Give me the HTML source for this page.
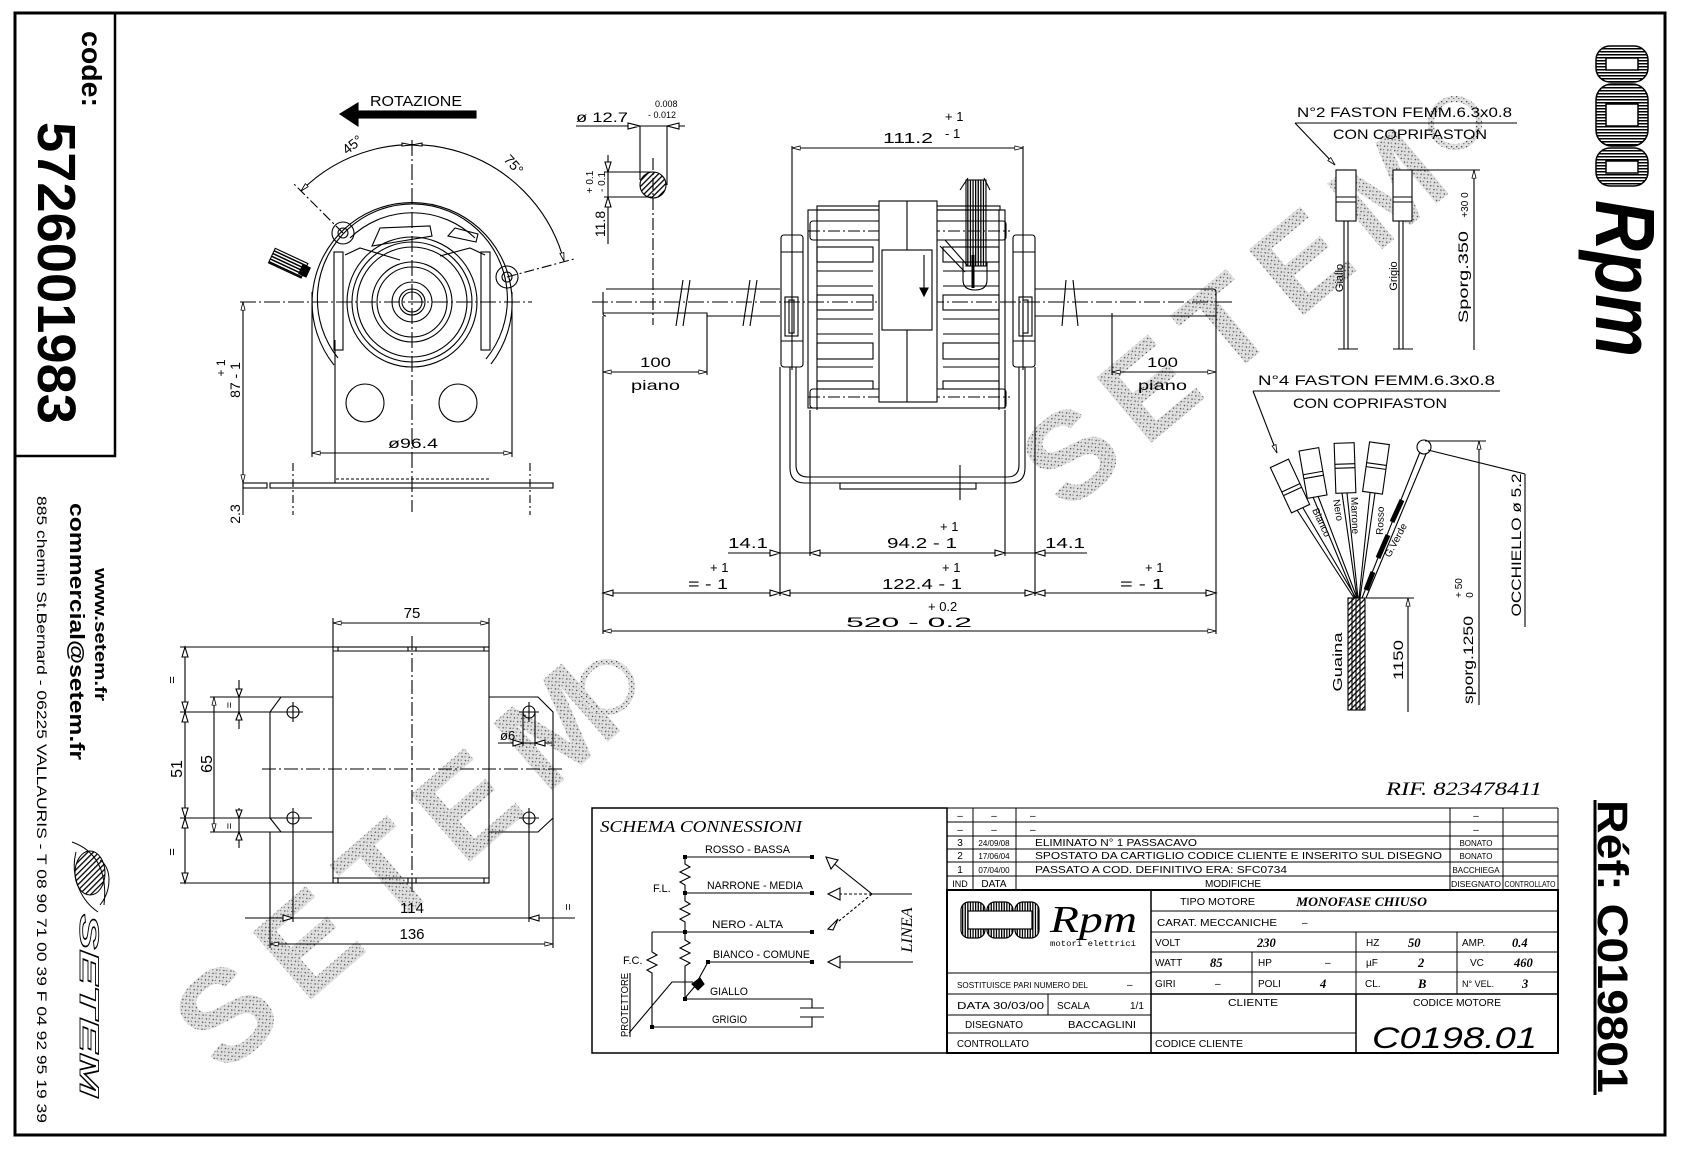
<!DOCTYPE html>
<html><head><meta charset="utf-8">
<style>
html,body{margin:0;padding:0;background:#fff}
svg{display:block}
text{font-family:"Liberation Sans",sans-serif;fill:#000;stroke:none}
.s{font-family:"Liberation Serif",serif;font-style:italic}
</style></head>
<body>
<svg width="1683" height="1153" viewBox="0 0 1683 1153" xmlns="http://www.w3.org/2000/svg">
<defs>
<marker id="ar" viewBox="0 0 10 6" refX="10" refY="3" markerWidth="9" markerHeight="5" markerUnits="userSpaceOnUse" orient="auto-start-reverse"><path d="M0,0.5 L10,3 L0,5.5 z" fill="#fff" stroke="#000" stroke-width="1"/></marker>
<pattern id="hatch" width="4" height="4" patternUnits="userSpaceOnUse" patternTransform="rotate(45)"><rect width="1.3" height="4" fill="#000"/></pattern>
<pattern id="hs" width="4" height="3" patternUnits="userSpaceOnUse"><rect width="4" height="1.5" fill="#000"/></pattern>
<pattern id="vs" width="2.6" height="4" patternUnits="userSpaceOnUse"><rect width="1.3" height="4" fill="#000"/></pattern>
<pattern id="stip" width="5" height="5" patternUnits="userSpaceOnUse"><rect width="5" height="5" fill="#e0e0e0"/><rect x="1" y="1" width="1.3" height="1.3" fill="#4a4a4a"/><rect x="3.2" y="3" width="1.2" height="1.2" fill="#777"/></pattern>
</defs>
<rect width="1683" height="1153" fill="#fff"/>

<!-- watermarks -->
<g font-family="Liberation Sans" font-weight="bold">
<text transform="translate(403,859) rotate(-41)" text-anchor="middle" y="46" font-size="130" letter-spacing="22" style="fill:url(#stip)">SETEM</text>
<text transform="translate(1240,311) rotate(-40)" text-anchor="middle" y="44" font-size="124" letter-spacing="20" style="fill:url(#stip)">SETEM</text>
</g>
<circle cx="607" cy="687" r="25" fill="none" stroke="url(#stip)" stroke-width="6"/>
<circle cx="1455" cy="123" r="24" fill="none" stroke="url(#stip)" stroke-width="6"/>

<!-- frame -->
<rect x="15" y="13" width="1650" height="1122" fill="none" stroke="#000" stroke-width="3"/>
<path d="M115,13 V456 H15" fill="none" stroke="#000" stroke-width="2.5"/>

<!-- left panel -->
<text transform="translate(82,31) rotate(90)" font-size="28" font-weight="bold" textLength="76" lengthAdjust="spacingAndGlyphs">code:</text>
<text transform="translate(38,122) rotate(90)" font-size="54" font-weight="bold" textLength="302" lengthAdjust="spacingAndGlyphs">5726001983</text>
<text transform="translate(95,568) rotate(90)" font-size="17" font-weight="bold" textLength="133" lengthAdjust="spacingAndGlyphs">www.setem.fr</text>
<text transform="translate(70,503) rotate(90)" font-size="20" font-weight="bold" textLength="257" lengthAdjust="spacingAndGlyphs">commercial@setem.fr</text>
<text transform="translate(37,496) rotate(90)" font-size="14" textLength="627" lengthAdjust="spacingAndGlyphs">885 chemin St.Bernard - 06225 VALLAURIS - T 08 90 71 00 39  F 04 92 95 19 39</text>
<g fill="none" stroke="#000" stroke-width="1">
<ellipse cx="90" cy="873" rx="15" ry="22" fill="url(#hatch)"/>
<path d="M72,842 C95,850 108,870 104,905 M76,852 C70,875 80,900 98,912 M100,860 C112,868 112,890 100,905"/>
</g>
<text transform="translate(80,914) rotate(90)" font-size="27" font-weight="bold" font-style="italic" style="fill:#fff;stroke:#000;stroke-width:0.9" textLength="183" lengthAdjust="spacingAndGlyphs">SETEM</text>

<!-- top-right Rpm logo -->
<g stroke="#000" stroke-width="1.5">
<rect x="1596" y="46" width="52" height="36" rx="14" fill="url(#hs)"/>
<rect x="1596" y="84" width="52" height="62" rx="16" fill="url(#hs)"/>
<rect x="1596" y="148" width="52" height="38" rx="14" fill="url(#hs)"/>
<rect x="1606" y="58" width="32" height="12" fill="#fff"/>
<rect x="1606" y="104" width="32" height="22" fill="#fff"/>
<rect x="1606" y="161" width="32" height="12" fill="#fff"/>
</g>
<text transform="translate(1596,200) rotate(90)" font-family="Liberation Serif" font-style="italic" font-weight="bold" font-size="84" textLength="157" lengthAdjust="spacingAndGlyphs">Rpm</text>

<!-- Réf -->
<line x1="1595" y1="800" x2="1595" y2="1095" stroke="#000" stroke-width="3"/>
<text transform="translate(1598,800) rotate(90)" font-size="43" font-weight="bold" textLength="293" lengthAdjust="spacingAndGlyphs">Réf: C019801</text>
<text x="1386" y="795" class="s" font-size="19" textLength="156" lengthAdjust="spacingAndGlyphs">RIF. 823478411</text>

<!-- ================= TOP-LEFT VIEW ================= -->
<g fill="none" stroke="#000" stroke-width="1.1">
<rect x="355" y="111" width="121" height="7" fill="#000"/>
<path d="M340,114 L358,103 L358,126 z" fill="#000"/>
<path d="M301,191 A157,157 0 0 1 564,261" marker-start="url(#ar)" marker-end="url(#ar)"/>
<path d="M402,146 L412,145 L402,143 z M422,146 L412,145 L422,143z" fill="#fff"/>
<line x1="412" y1="140" x2="412" y2="512" stroke-dasharray="16 3 2 3"/>
<line x1="240" y1="302" x2="532" y2="302" stroke-dasharray="16 3 2 3"/>
<line x1="343" y1="233" x2="293" y2="183" stroke-dasharray="10 3 2 3"/>
<line x1="507" y1="277" x2="574" y2="259" stroke-dasharray="10 3 2 3"/>
<circle cx="412" cy="302" r="10"/><circle cx="412" cy="302" r="13"/>
<circle cx="412" cy="302" r="20"/><circle cx="412" cy="302" r="35"/>
<circle cx="412" cy="302" r="40"/><circle cx="412" cy="302" r="55"/>
<circle cx="412" cy="302" r="60"/><circle cx="412" cy="302" r="65"/>
<path d="M334,365 A100,100 0 1 1 491,364"/>
<path d="M338,358 A95,95 0 1 1 486,359"/>
<path d="M350,238 A90,90 0 0 1 475,238"/>
<path d="M372,246 L380,228 L430,226 L432,236 L384,244 z"/>
<path d="M448,236 L455,228 L478,234 L476,242 z"/>
<path d="M345,255 L360,248 L400,260 M485,255 L470,248 L440,256"/>
<rect x="334" y="252" width="9" height="98"/>
<rect x="481" y="252" width="9" height="98"/>
<circle cx="343" cy="233" r="11"/><circle cx="343" cy="233" r="5"/>
<circle cx="507" cy="277" r="11"/><circle cx="507" cy="277" r="5"/>
<g transform="translate(290,264) rotate(25)"><rect x="-20" y="-8" width="36" height="16" fill="url(#hs)"/><rect x="12" y="-5" width="8" height="10" fill="#000"/></g>
<line x1="312" y1="292" x2="312" y2="457"/>
<line x1="512" y1="292" x2="512" y2="457"/>
<line x1="335" y1="340" x2="335" y2="483"/>
<line x1="312" y1="453" x2="512" y2="453" marker-start="url(#ar)" marker-end="url(#ar)"/>
<circle cx="365" cy="403" r="19"/><circle cx="458" cy="403" r="19"/>
<rect x="270" y="483" width="283" height="5"/>
<rect x="243" y="483" width="24" height="5"/>
<line x1="336" y1="479" x2="490" y2="479" stroke-dasharray="3 2"/>
<line x1="293" y1="463" x2="293" y2="515" stroke-dasharray="8 3 2 3"/>
<line x1="530" y1="463" x2="530" y2="515" stroke-dasharray="8 3 2 3"/>
<line x1="243" y1="302" x2="243" y2="483" marker-start="url(#ar)" marker-end="url(#ar)"/>
<line x1="243" y1="483" x2="243" y2="515"/>
</g>
<text x="370" y="106" font-size="15" textLength="92" lengthAdjust="spacingAndGlyphs">ROTAZIONE</text>
<text transform="translate(347,155) rotate(-38)" font-size="14">45°</text>
<text transform="translate(503,160) rotate(48)" font-size="14">75°</text>
<text x="388" y="448" font-size="14" textLength="50" lengthAdjust="spacingAndGlyphs">ø96.4</text>
<text transform="translate(240,380) rotate(-90)" text-anchor="middle" font-size="14">87 - 1</text>
<text transform="translate(225,368) rotate(-90)" text-anchor="middle" font-size="12">+ 1</text>
<text transform="translate(240,514) rotate(-90)" text-anchor="middle" font-size="14">2.3</text>

<!-- ================= MIDDLE VIEW ================= -->
<g fill="none" stroke="#000" stroke-width="1.1">
<line x1="576" y1="126" x2="685" y2="126"/>
<path d="M628,123 L640,126 L628,129 z M679,123 L667,126 L679,129 z" fill="#fff"/>
<line x1="640" y1="126" x2="640" y2="180"/>
<line x1="667" y1="126" x2="667" y2="185"/>
<circle cx="653" cy="185" r="13" fill="url(#hatch)"/>
<line x1="604" y1="172" x2="653" y2="172"/>
<line x1="604" y1="197" x2="653" y2="197"/>
<line x1="608" y1="155" x2="608" y2="244"/>
<path d="M605,162 L608,172 L611,162 z M605,207 L608,197 L611,207 z" fill="#fff"/>
<line x1="653" y1="158" x2="653" y2="325" stroke-dasharray="12 3 2 3"/>
<line x1="592" y1="302" x2="1232" y2="302" stroke-dasharray="16 3 2 3"/>
<path d="M606,289 H780 M603,292 V313 Q603,316 606,316 M603,313 H707 V316 H780"/>
<path d="M683,280 L676,326 M690,280 L683,326 M750,280 L743,326 M757,280 L750,326"/>
<path d="M1035,289 H1213 Q1216,289 1216,292 V316 H1112 V313 M1035,316 H1112"/>
<path d="M1066,280 L1062,326 M1073,280 L1078,326"/>
<rect x="781" y="235" width="22" height="132" rx="3"/>
<line x1="781" y1="252" x2="803" y2="252"/>
<line x1="781" y1="341" x2="803" y2="341"/>
<rect x="785" y="297" width="13" height="39"/>
<rect x="789" y="300" width="5" height="33"/>
<rect x="1013" y="235" width="22" height="132" rx="3"/>
<line x1="1013" y1="252" x2="1035" y2="252"/>
<line x1="1013" y1="341" x2="1035" y2="341"/>
<rect x="1019" y="297" width="13" height="39"/>
<rect x="1023" y="300" width="5" height="33"/>
<rect x="808" y="210" width="197" height="198"/>
<rect x="817" y="206" width="183" height="4"/>
<rect x="810" y="221" width="196" height="19" rx="3"/>
<rect x="810" y="389" width="196" height="19" rx="3"/>
<line x1="808" y1="231" x2="1010" y2="231" stroke-dasharray="12 3 2 3"/>
<line x1="808" y1="397" x2="1010" y2="397" stroke-dasharray="12 3 2 3"/>
<line x1="817" y1="210" x2="817" y2="410"/>
<line x1="999" y1="210" x2="999" y2="410"/>
<rect x="879" y="201" width="58" height="201" fill="#fff"/>
<line x1="907" y1="201" x2="907" y2="402"/>
<rect x="882" y="250" width="50" height="80" fill="#fff"/>
<line x1="924" y1="255" x2="924" y2="290"/>
<path d="M920,288 L928,288 L924,296 z" fill="#000"/>
<rect x="817" y="247" width="56" height="15"/><rect x="817" y="295" width="56" height="15"/>
<rect x="817" y="343" width="56" height="16"/><rect x="817" y="381" width="56" height="8"/>
<rect x="943" y="247" width="56" height="15"/><rect x="943" y="295" width="56" height="15"/>
<rect x="943" y="343" width="56" height="16"/><rect x="943" y="381" width="56" height="8"/>
<path d="M817,271 H873 M817,286 H873 M817,319 H873 M817,334 H873 M817,367 H873 M943,271 H999 M943,286 H999 M943,319 H999 M943,334 H999 M943,367 H999"/>
<rect x="966" y="180" width="20" height="86" fill="url(#vs)"/>
<path d="M960,190 L968,178 M990,190 L984,178"/>
<path d="M963,262 V280 Q963,290 975,290 Q987,290 987,280 V262"/>
<line x1="973" y1="255" x2="973" y2="288" stroke-width="3"/>
<path d="M940,246 L965,272 M945,240 L968,266"/>
<path d="M790,367 V468 Q790,483 805,483 H1010 Q1025,483 1025,468 V367"/>
<path d="M796,367 V465 Q796,477 808,477 H1007 Q1019,477 1019,465 V367"/>
<rect x="840" y="483" width="136" height="6"/>
<line x1="960" y1="465" x2="960" y2="500"/>
<line x1="792" y1="146" x2="792" y2="370"/>
<line x1="1023" y1="146" x2="1023" y2="370"/>
<line x1="780" y1="367" x2="780" y2="596"/>
<line x1="1035" y1="367" x2="1035" y2="596"/>
<line x1="810" y1="410" x2="810" y2="556"/>
<line x1="1005" y1="410" x2="1005" y2="556"/>
<line x1="603" y1="316" x2="603" y2="634"/>
<line x1="1216" y1="316" x2="1216" y2="634"/>
<line x1="707" y1="316" x2="707" y2="375"/>
<line x1="1112" y1="316" x2="1112" y2="375"/>
<line x1="792" y1="148" x2="1023" y2="148" marker-start="url(#ar)" marker-end="url(#ar)"/>
<line x1="603" y1="372" x2="707" y2="372" marker-start="url(#ar)" marker-end="url(#ar)"/>
<line x1="1112" y1="372" x2="1216" y2="372" marker-start="url(#ar)" marker-end="url(#ar)"/>
<line x1="728" y1="553" x2="1087" y2="553"/>
<path d="M770,550 L780,553 L770,556 z M820,550 L810,553 L820,556 z M995,550 L1005,553 L995,556 z M1045,550 L1035,553 L1045,556 z" fill="#fff"/>
<line x1="603" y1="593" x2="1216" y2="593"/>
<path d="M613,590 L603,593 L613,596 z M770,590 L780,593 L770,596 z M790,590 L780,593 L790,596 z M1025,590 L1035,593 L1025,596 z M1045,590 L1035,593 L1045,596 z M1206,590 L1216,593 L1206,596 z" fill="#fff"/>
<line x1="603" y1="631" x2="1216" y2="631" marker-start="url(#ar)" marker-end="url(#ar)"/>
</g>
<text x="576" y="122" font-size="14" textLength="52" lengthAdjust="spacingAndGlyphs">ø 12.7</text>
<text x="655" y="107" font-size="9">0.008</text>
<text x="648" y="118" font-size="9">- 0.012</text>
<text transform="translate(605,224) rotate(-90)" text-anchor="middle" font-size="14">11.8</text>
<text transform="translate(605,182) rotate(-90)" text-anchor="middle" font-size="10">- 0.1</text>
<text transform="translate(593,182) rotate(-90)" text-anchor="middle" font-size="10">+ 0.1</text>
<text x="640" y="367" font-size="14" textLength="31" lengthAdjust="spacingAndGlyphs">100</text>
<text x="631" y="390" font-size="14" textLength="49" lengthAdjust="spacingAndGlyphs">piano</text>
<text x="1147" y="367" font-size="14" textLength="31" lengthAdjust="spacingAndGlyphs">100</text>
<text x="1138" y="390" font-size="14" textLength="49" lengthAdjust="spacingAndGlyphs">piano</text>
<text x="883" y="143" font-size="15" textLength="50" lengthAdjust="spacingAndGlyphs">111.2</text>
<text x="945" y="121" font-size="13">+ 1</text>
<text x="945" y="138" font-size="13">- 1</text>
<text x="728" y="548" font-size="15" textLength="40" lengthAdjust="spacingAndGlyphs">14.1</text>
<text x="1045" y="548" font-size="15" textLength="40" lengthAdjust="spacingAndGlyphs">14.1</text>
<text x="887" y="548" font-size="15" textLength="70" lengthAdjust="spacingAndGlyphs">94.2 - 1</text>
<text x="940" y="531" font-size="13">+ 1</text>
<text x="882" y="589" font-size="15" textLength="80" lengthAdjust="spacingAndGlyphs">122.4 - 1</text>
<text x="942" y="572" font-size="13">+ 1</text>
<text x="688" y="589" font-size="15" textLength="40" lengthAdjust="spacingAndGlyphs">= - 1</text>
<text x="710" y="572" font-size="13">+ 1</text>
<text x="1120" y="589" font-size="15" textLength="44" lengthAdjust="spacingAndGlyphs">= - 1</text>
<text x="1145" y="572" font-size="13">+ 1</text>
<text x="846" y="627" font-size="14" textLength="126" lengthAdjust="spacingAndGlyphs">520 - 0.2</text>
<text x="928" y="611" font-size="13">+ 0.2</text>

<!-- ================= FASTON ================= -->
<g fill="none" stroke="#000" stroke-width="1.1">
<line x1="1295" y1="123" x2="1517" y2="123"/>
<line x1="1295" y1="123" x2="1335" y2="165" marker-end="url(#ar)"/>
<rect x="1336" y="170" width="20" height="51" fill="#fff"/>
<path d="M1336,197 H1356 M1336,202 H1356"/>
<path d="M1344,221 V349 M1348,221 V349 M1338,349 H1358"/>
<rect x="1393" y="170" width="19" height="51" fill="#fff"/>
<path d="M1393,197 H1412 M1393,202 H1412"/>
<path d="M1399,221 V349 M1403,221 V349 M1393,349 H1413"/>
<line x1="1412" y1="170" x2="1480" y2="170"/>
<line x1="1474" y1="170" x2="1474" y2="350" marker-start="url(#ar)"/>
<line x1="1253" y1="391" x2="1500" y2="391"/>
<line x1="1253" y1="391" x2="1277" y2="453" marker-end="url(#ar)"/>
<g fill="#fff">
<g transform="translate(1290,486) rotate(-25)"><rect x="-10" y="-25" width="20" height="50"/><path d="M-10,2 H10 M-10,6 H10"/></g>
<g transform="translate(1313,473) rotate(-10)"><rect x="-10" y="-24" width="20" height="48"/><path d="M-10,0 H10 M-10,4 H10"/></g>
<g transform="translate(1345,468) rotate(-2)"><rect x="-10" y="-25" width="20" height="50"/><path d="M-10,-4 H10 M-10,0 H10"/></g>
<g transform="translate(1376,468) rotate(8)"><rect x="-10" y="-25" width="20" height="50"/><path d="M-10,-4 H10 M-10,0 H10"/></g>
</g>
<path d="M1297,510 L1354,598 M1303,508 L1356,598 M1313,497 L1355,598 M1318,496 L1357,598 M1342,493 L1357,598 M1347,493 L1358,598 M1370,493 L1359,598 M1375,493 L1360,598"/>
<path d="M1420,452 L1362,598 M1426,454 L1366,598"/>
<path d="M1402,500 L1392,522 M1388,535 L1378,558 M1373,572 L1366,590" stroke-width="5"/>
<circle cx="1424" cy="447" r="7"/>
<line x1="1428" y1="450" x2="1525" y2="474"/>
<line x1="1525" y1="474" x2="1525" y2="627"/>
<rect x="1348" y="598" width="17" height="112" fill="url(#hatch)"/>
<path d="M1352,598 V710 M1356,598 V710 M1360,598 V710"/>
<line x1="1366" y1="598" x2="1414" y2="598"/>
<line x1="1408" y1="598" x2="1408" y2="712" marker-start="url(#ar)"/>
<line x1="1425" y1="441" x2="1486" y2="441"/>
<line x1="1479" y1="441" x2="1479" y2="705" marker-start="url(#ar)"/>
</g>
<text x="1297" y="117" font-size="14" textLength="215" lengthAdjust="spacingAndGlyphs">N°2 FASTON FEMM.6.3x0.8</text>
<text x="1333" y="139" font-size="14" textLength="154" lengthAdjust="spacingAndGlyphs">CON COPRIFASTON</text>
<text transform="translate(1343,278) rotate(-90)" text-anchor="middle" font-size="11">Giallo</text>
<text transform="translate(1397,276) rotate(-90)" text-anchor="middle" font-size="11">Grigio</text>
<text transform="translate(1468,277) rotate(-90)" text-anchor="middle" font-size="14" textLength="92" lengthAdjust="spacingAndGlyphs">Sporg.350</text>
<text transform="translate(1468,205) rotate(-90)" text-anchor="middle" font-size="10">+30 0</text>
<text x="1258" y="385" font-size="14" textLength="237" lengthAdjust="spacingAndGlyphs">N°4 FASTON FEMM.6.3x0.8</text>
<text x="1293" y="408" font-size="14" textLength="154" lengthAdjust="spacingAndGlyphs">CON COPRIFASTON</text>
<text transform="translate(1312,510) rotate(65)" font-size="10">Bianco</text>
<text transform="translate(1333,500) rotate(80)" font-size="10">Nero</text>
<text transform="translate(1351,497) rotate(88)" font-size="10">Marrone</text>
<text transform="translate(1383,535) rotate(-88)" font-size="10">Rosso</text>
<text transform="translate(1390,558) rotate(-62)" font-size="10">G.Verde</text>
<text transform="translate(1342,662) rotate(-90)" text-anchor="middle" font-size="13" textLength="59" lengthAdjust="spacingAndGlyphs">Guaina</text>
<text transform="translate(1403,660) rotate(-90)" text-anchor="middle" font-size="14" textLength="40" lengthAdjust="spacingAndGlyphs">1150</text>
<text transform="translate(1473,660) rotate(-90)" text-anchor="middle" font-size="14" textLength="88" lengthAdjust="spacingAndGlyphs">sporg.1250</text>
<text transform="translate(1473,595) rotate(-90)" text-anchor="middle" font-size="10">0</text>
<text transform="translate(1462,588) rotate(-90)" text-anchor="middle" font-size="10">+ 50</text>
<text transform="translate(1521,545) rotate(-90)" text-anchor="middle" font-size="14" textLength="143" lengthAdjust="spacingAndGlyphs">OCCHIELLO ø 5.2</text>

<!-- ================= BOTTOM-LEFT BRACKET ================= -->
<g fill="none" stroke="#000" stroke-width="1.1">
<line x1="333" y1="623" x2="489" y2="623" marker-start="url(#ar)" marker-end="url(#ar)"/>
<line x1="333" y1="618" x2="333" y2="647"/><line x1="489" y1="618" x2="489" y2="647"/>
<rect x="333" y="647" width="156" height="236"/>
<line x1="333" y1="651" x2="489" y2="651"/><line x1="333" y1="878" x2="489" y2="878"/>
<path d="M338,647 V651 M408,647 V651 M416,647 V651 M484,647 V651 M338,878 V883 M408,878 V883 M416,878 V883 M484,878 V883"/>
<line x1="412" y1="636" x2="412" y2="895" stroke-dasharray="14 3 2 3"/>
<path d="M333,697 H281 L270,712 V818 L281,832 H333"/>
<path d="M489,697 H538 L553,712 V818 L538,832 H489"/>
<circle cx="293" cy="712" r="6"/><circle cx="293" cy="818" r="6"/>
<circle cx="529" cy="712" r="6"/><circle cx="529" cy="818" r="6"/>
<path d="M283,712 H303 M293,702 V722 M283,818 H312 M293,808 V828 M519,712 H539 M529,702 V722 M519,818 H539 M529,808 V828"/>
<line x1="262" y1="769" x2="562" y2="769" stroke-dasharray="14 3 2 3"/>
<line x1="180" y1="647" x2="333" y2="647"/><line x1="180" y1="883" x2="333" y2="883"/>
<line x1="180" y1="712" x2="285" y2="712"/><line x1="180" y1="818" x2="285" y2="818"/>
<line x1="185" y1="647" x2="185" y2="883"/>
<path d="M182,657 L185,647 L188,657 z M182,702 L185,712 L188,702 z M182,722 L185,712 L188,722 z M182,808 L185,818 L188,808 z M182,828 L185,818 L188,828 z M182,873 L185,883 L188,873 z" fill="#fff"/>
<line x1="210" y1="697" x2="281" y2="697"/><line x1="210" y1="832" x2="281" y2="832"/>
<line x1="214" y1="697" x2="214" y2="832" marker-start="url(#ar)" marker-end="url(#ar)"/>
<line x1="239" y1="680" x2="239" y2="729"/><line x1="239" y1="808" x2="239" y2="848"/>
<path d="M236,689 L239,697 L242,689 z M236,720 L239,712 L242,720 z M236,810 L239,818 L242,810 z M236,840 L239,832 L242,840 z" fill="#fff"/>
<line x1="293" y1="818" x2="293" y2="922"/><line x1="529" y1="818" x2="529" y2="922"/>
<line x1="245" y1="918" x2="575" y2="918"/>
<path d="M283,915 L293,918 L283,921 z M539,915 L529,918 L539,921 z" fill="#fff"/>
<line x1="270" y1="832" x2="270" y2="948"/><line x1="553" y1="818" x2="553" y2="948"/>
<line x1="270" y1="944" x2="553" y2="944" marker-start="url(#ar)" marker-end="url(#ar)"/>
<line x1="498" y1="743" x2="552" y2="743"/>
<path d="M513,740 L523,743 L513,746 z M545,740 L535,743 L545,746 z" fill="#fff"/>
<line x1="523" y1="712" x2="523" y2="746"/><line x1="535" y1="712" x2="535" y2="746"/>
</g>
<text x="412" y="618" text-anchor="middle" font-size="15">75</text>
<text transform="translate(182,769) rotate(-90)" text-anchor="middle" font-size="16">51</text>
<text transform="translate(212,764) rotate(-90)" text-anchor="middle" font-size="16">65</text>
<text transform="translate(176,680) rotate(-90)" text-anchor="middle" font-size="13">=</text>
<text transform="translate(176,852) rotate(-90)" text-anchor="middle" font-size="13">=</text>
<text transform="translate(233,705) rotate(-90)" text-anchor="middle" font-size="11">=</text>
<text transform="translate(233,826) rotate(-90)" text-anchor="middle" font-size="11">=</text>
<text x="412" y="913" text-anchor="middle" font-size="15">114</text>
<text x="412" y="939" text-anchor="middle" font-size="15">136</text>
<text x="500" y="740" font-size="13">ø6</text>
<text transform="translate(572,907) rotate(-90)" text-anchor="middle" font-size="12">=</text>

<!-- ================= SCHEMA ================= -->
<g fill="none" stroke="#000" stroke-width="1.1">
<rect x="592" y="808" width="355" height="245" stroke-width="1.5"/>
<path d="M685,857 V864 l5,3 l-10,5 l10,5 l-10,5 l5,3 V893 V901 l5,3 l-10,5 l10,5 l-10,5 l5,3 V932 V940 l5,3 l-10,5 l10,5 l-10,5 l10,5 l-5,3 V999"/>
<path d="M685,857 H812 M685,893 H812 M652,932 H812 M708,962 H812 M685,999 H812 V1008 M800,1008 H824 M800,1017 H824 M812,1017 V1027 H652 V973 l-5,-3 l10,-5 l-10,-5 l10,-5 l-5,-3 V932"/>
<path d="M629,1033 L672,982 H693 M685,998 L701,979 M697,982 L708,962"/>
<path d="M692,984 L700,978 L704,984 L698,990 z" fill="#000"/>
<line x1="630" y1="973" x2="630" y2="1037"/>
<path d="M912,894 H872 L832,862"/>
<path d="M872,894 L840,894 M872,894 L834,925" stroke-dasharray="3 2"/>
<path d="M826,857 L838,860 L831,869 z M828,894 L840,888 L840,900 z M828,929 L838,919 L833,930 z M828,962 L840,956 L840,968 z" fill="#fff"/>
<line x1="913" y1="962" x2="840" y2="962"/>
</g>
<g fill="#000">
<rect x="683" y="855" width="4" height="4"/><rect x="810" y="855" width="4" height="4"/>
<rect x="683" y="891" width="4" height="4"/><rect x="810" y="891" width="4" height="4"/>
<rect x="683" y="930" width="4" height="4"/><rect x="810" y="930" width="4" height="4"/>
<rect x="706" y="960" width="4" height="4"/><rect x="810" y="960" width="4" height="4"/>
<rect x="683" y="997" width="4" height="4"/><rect x="650" y="1025" width="4" height="4"/>
</g>
<text x="600" y="832" class="s" font-size="17" textLength="202" lengthAdjust="spacingAndGlyphs">SCHEMA CONNESSIONI</text>
<text x="705" y="853" font-size="11" textLength="85" lengthAdjust="spacingAndGlyphs">ROSSO - BASSA</text>
<text x="707" y="889" font-size="11" textLength="96" lengthAdjust="spacingAndGlyphs">NARRONE - MEDIA</text>
<text x="712" y="928" font-size="11" textLength="71" lengthAdjust="spacingAndGlyphs">NERO - ALTA</text>
<text x="713" y="958" font-size="11" textLength="97" lengthAdjust="spacingAndGlyphs">BIANCO - COMUNE</text>
<text x="710" y="995" font-size="11" textLength="38" lengthAdjust="spacingAndGlyphs">GIALLO</text>
<text x="712" y="1023" font-size="11" textLength="35" lengthAdjust="spacingAndGlyphs">GRIGIO</text>
<text x="653" y="892" font-size="11">F.L.</text>
<text x="623" y="964" font-size="11">F.C.</text>
<text transform="translate(628,1005) rotate(-90)" text-anchor="middle" font-size="10" textLength="64" lengthAdjust="spacingAndGlyphs">PROTETTORE</text>
<text transform="translate(912,930) rotate(-90)" text-anchor="middle" class="s" font-size="16" textLength="45" lengthAdjust="spacingAndGlyphs">LINEA</text>

<!-- ================= TABLE ================= -->
<g fill="none" stroke="#000" stroke-width="1">
<path d="M947,808 H1558 M947,822 H1558 M947,836 H1558 M947,849 H1558 M947,862 H1558 M947,876 H1558"/>
<path d="M947,808 V890 M973,808 V890 M1016,808 V890 M1450,808 V890 M1503,808 V890 M1558,808 V890"/>
<rect x="947" y="890" width="611" height="163" stroke-width="2"/>
<line x1="1151" y1="890" x2="1151" y2="1053" stroke-width="1.5"/>
<path d="M947,973 H1151 M947,994 H1151 M947,1015 H1151 M947,1033 H1151 M1048,994 V1015"/>
<path d="M1151,911 H1558 M1151,932 H1558 M1151,952 H1558 M1151,972 H1558"/>
<line x1="1151" y1="994" x2="1558" y2="994" stroke-width="1.5"/>
<path d="M1356,932 V994 M1457,932 V994 M1252,952 V994 M1151,1033 H1356"/>
<line x1="1356" y1="994" x2="1356" y2="1053" stroke-width="1.5"/>
<g stroke-width="1.2">
<rect x="961" y="902" width="24" height="36" rx="8" fill="url(#vs)"/>
<rect x="987" y="902" width="26" height="36" rx="8" fill="url(#vs)"/>
<rect x="1015" y="902" width="24" height="36" rx="8" fill="url(#vs)"/>
<rect x="968" y="911" width="64" height="18" fill="#fff"/>
</g>
</g>
<g font-size="10">
<text x="960" y="819" text-anchor="middle">–</text><text x="994" y="819" text-anchor="middle">–</text><text x="1030" y="819">–</text><text x="1476" y="819" text-anchor="middle">–</text>
<text x="960" y="833" text-anchor="middle">–</text><text x="994" y="833" text-anchor="middle">–</text><text x="1030" y="833">–</text><text x="1476" y="833" text-anchor="middle">–</text>
<text x="960" y="846" text-anchor="middle">3</text><text x="994" y="846" text-anchor="middle" font-size="8">24/09/08</text>
<text x="1035" y="846" textLength="162" lengthAdjust="spacingAndGlyphs">ELIMINATO N° 1 PASSACAVO</text>
<text x="1476" y="846" text-anchor="middle" font-size="8">BONATO</text>
<text x="960" y="859" text-anchor="middle">2</text><text x="994" y="859" text-anchor="middle" font-size="8">17/06/04</text>
<text x="1035" y="859" textLength="407" lengthAdjust="spacingAndGlyphs">SPOSTATO  DA CARTIGLIO CODICE CLIENTE E INSERITO SUL DISEGNO</text>
<text x="1476" y="859" text-anchor="middle" font-size="8">BONATO</text>
<text x="960" y="873" text-anchor="middle">1</text><text x="994" y="873" text-anchor="middle" font-size="8">07/04/00</text>
<text x="1035" y="873" textLength="252" lengthAdjust="spacingAndGlyphs">PASSATO A COD. DEFINITIVO ERA: SFC0734</text>
<text x="1476" y="873" text-anchor="middle" font-size="8">BACCHIEGA</text>
<text x="960" y="887" text-anchor="middle" font-size="9">IND</text><text x="994" y="887" text-anchor="middle">DATA</text>
<text x="1233" y="887" text-anchor="middle">MODIFICHE</text>
<text x="1476" y="887" text-anchor="middle" font-size="8" textLength="50" lengthAdjust="spacingAndGlyphs">DISEGNATO</text>
<text x="1530" y="887" text-anchor="middle" font-size="8" textLength="51" lengthAdjust="spacingAndGlyphs">CONTROLLATO</text>
<text x="957" y="988" font-size="8.5" textLength="131" lengthAdjust="spacingAndGlyphs">SOSTITUISCE PARI NUMERO DEL</text>
<text x="1127" y="988">–</text>
<text x="957" y="1009" textLength="87" lengthAdjust="spacingAndGlyphs">DATA   30/03/00</text>
<text x="1057" y="1009">SCALA</text><text x="1130" y="1009">1/1</text>
<text x="965" y="1028" textLength="58" lengthAdjust="spacingAndGlyphs">DISEGNATO</text>
<text x="1068" y="1028" textLength="68" lengthAdjust="spacingAndGlyphs">BACCAGLINI</text>
<text x="957" y="1047" textLength="72" lengthAdjust="spacingAndGlyphs">CONTROLLATO</text>
<text x="1180" y="905" textLength="75" lengthAdjust="spacingAndGlyphs">TIPO MOTORE</text>
<text x="1157" y="926" textLength="120" lengthAdjust="spacingAndGlyphs">CARAT. MECCANICHE</text>
<text x="1302" y="926">–</text>
<text x="1155" y="946">VOLT</text><text x="1366" y="946">HZ</text><text x="1462" y="946">AMP.</text>
<text x="1155" y="966">WATT</text><text x="1258" y="966">HP</text><text x="1325" y="966">–</text><text x="1366" y="966">µF</text><text x="1470" y="966">VC</text>
<text x="1155" y="987">GIRI</text><text x="1215" y="987">–</text><text x="1258" y="987">POLI</text><text x="1365" y="987">CL.</text><text x="1462" y="987" font-size="9">N° VEL.</text>
<text x="1253" y="1006" text-anchor="middle" textLength="50" lengthAdjust="spacingAndGlyphs">CLIENTE</text>
<text x="1155" y="1047" textLength="88" lengthAdjust="spacingAndGlyphs">CODICE CLIENTE</text>
<text x="1457" y="1006" text-anchor="middle" textLength="88" lengthAdjust="spacingAndGlyphs">CODICE MOTORE</text>
</g>
<g font-size="12.5" font-weight="bold">
<text x="1296" y="906" class="s" textLength="131" lengthAdjust="spacingAndGlyphs">MONOFASE CHIUSO</text>
<text x="1257" y="947" class="s">230</text><text x="1408" y="947" class="s">50</text><text x="1512" y="947" class="s">0.4</text>
<text x="1210" y="967" class="s">85</text><text x="1418" y="967" class="s">2</text><text x="1514" y="967" class="s">460</text>
<text x="1320" y="988" class="s">4</text><text x="1418" y="988" class="s">B</text><text x="1522" y="988" class="s">3</text>
</g>
<text x="1050" y="932" class="s" font-size="38" textLength="87" lengthAdjust="spacingAndGlyphs">Rpm</text>
<text x="1050" y="946" font-size="8.5" textLength="86" lengthAdjust="spacingAndGlyphs" style="font-family:'Liberation Mono',monospace">motori elettrici</text>
<text x="1372" y="1048" font-size="30" font-style="italic" textLength="165" lengthAdjust="spacingAndGlyphs">C0198.01</text>
</svg>
</body></html>
